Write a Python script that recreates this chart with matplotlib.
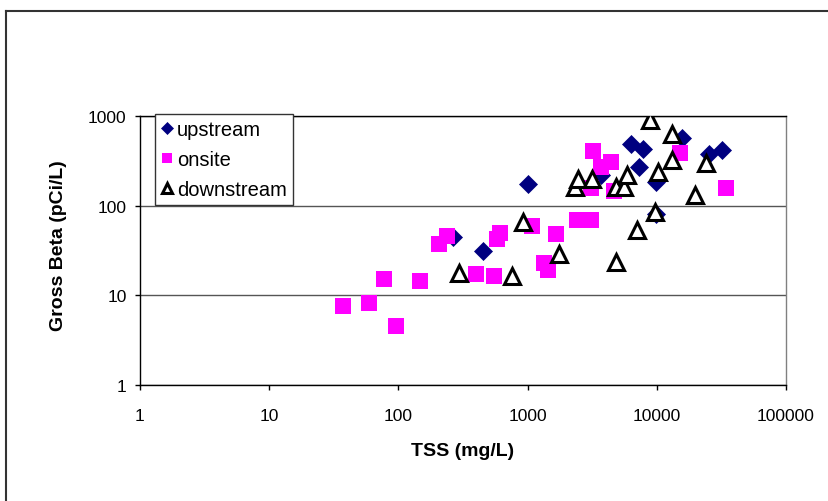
import numpy as np
import matplotlib.pyplot as plt
from matplotlib.lines import Line2D
from matplotlib.ticker import NullLocator

plt.rcParams['font.family'] = ['Liberation Sans', 'DejaVu Sans']

# TSS (mg/L) and gross beta (pCi/L) per station
upstream_tss = [264, 450, 1000, 3700, 6300, 7800, 7300, 9800, 9800, 15800, 25400, 32200]
upstream_beta = [44.5, 31.5, 175, 217, 490, 430, 269, 183, 81, 571, 379, 423]

onsite_tss = [37, 59, 78, 95, 146, 206, 237, 400, 554, 577, 613, 1089, 1350, 1450,
              1670, 2430, 3110, 3190, 4440, 3700, 3100, 4690, 15200, 34600]
onsite_beta = [7.6, 8.3, 15.2, 4.5, 14.3, 37, 45.5, 17.3, 16.4, 42.6, 49, 59.5, 23,
               19.2, 48.5, 69.5, 69.5, 409, 308, 269, 158, 147, 385, 157]

downstream_tss = [294, 754, 925, 1760, 2340, 2440, 3150, 4800, 4820, 5530, 5830, 7020,
                  9750, 10300, 8900, 13000, 13000, 19800, 24000]
downstream_beta = [17.8, 16.5, 65, 29, 161, 199, 199, 23.6, 161, 161, 221, 53,
                   85, 240, 891, 625, 319, 130, 299]

x_ticks = [1, 10, 100, 1000, 10000, 100000]
x_tick_labels = ['1', '10', '100', '1000', '10000', '100000']
y_ticks = [1, 10, 100, 1000]
y_tick_labels = ['1', '10', '100', '1000']

W, H = 829, 502
fig = plt.figure(figsize=(W / 100, H / 100), dpi=100)
ax = fig.add_axes([140 / W, 1 - 386 / H, 646 / W, 269 / H])

ax.plot(upstream_tss, upstream_beta, ls='none', marker='D', ms=9.5,
        mfc='#000080', mec='#000080', mew=0.5, label='upstream', zorder=3)
ax.plot(onsite_tss, onsite_beta, ls='none', marker='s', ms=12,
        mfc='#FF00FF', mec='#FF00FF', mew=0, label='onsite', zorder=4)
ax.plot(downstream_tss, downstream_beta, ls='none', marker='^', ms=11,
        mfc='white', mec='black', mew=2.2, label='downstream', zorder=5)

ax.set_xscale('log')
ax.set_yscale('log')
ax.set_xlim(1, 100000)
ax.set_ylim(1, 1000)
ax.set_xticks(x_ticks)
ax.set_xticklabels(x_tick_labels)
ax.set_yticks(y_ticks)
ax.set_yticklabels(y_tick_labels)
ax.xaxis.set_minor_locator(NullLocator())
ax.yaxis.set_minor_locator(NullLocator())
ax.tick_params(axis='both', direction='out', length=3.6, width=1, labelsize=12.5)
ax.tick_params(axis='x', pad=13)
ax.tick_params(axis='y', pad=6)

ax.yaxis.grid(True, color='#555555', lw=1)
ax.set_axisbelow(True)
for side in ['left', 'bottom', 'top']:
    ax.spines[side].set_color('black')
    ax.spines[side].set_linewidth(1)
ax.spines['right'].set_color('#808080')
ax.spines['right'].set_linewidth(1)

fig.text(463 / W, 1 - 452 / H, 'TSS (mg/L)', ha='center', va='center',
         fontsize=14, fontweight='bold')
fig.text(59 / W, 1 - 246 / H, 'Gross Beta (pCi/L)', ha='center', va='center',
         rotation=90, fontsize=14, fontweight='bold')

leg = ax.legend(loc='upper left', bbox_to_anchor=(155 / W, 1 - 115 / H),
                bbox_transform=fig.transFigure, borderaxespad=0, fontsize=14.5,
                markerscale=0.65, handlelength=0.6, handletextpad=0.2,
                borderpad=0.3, labelspacing=0.55, fancybox=False, framealpha=1)
leg.get_frame().set_edgecolor('#333333')
leg.get_frame().set_linewidth(1)

# outer chart frame (cut off at the right and bottom)
fig.add_artist(Line2D([6 / W, 6 / W], [0, 1 - 12 / H], color='#333333', lw=1.5))
fig.add_artist(Line2D([6 / W, 1], [1 - 12 / H, 1 - 12 / H], color='#333333', lw=1.5))

fig.savefig('out.png', dpi=100)
